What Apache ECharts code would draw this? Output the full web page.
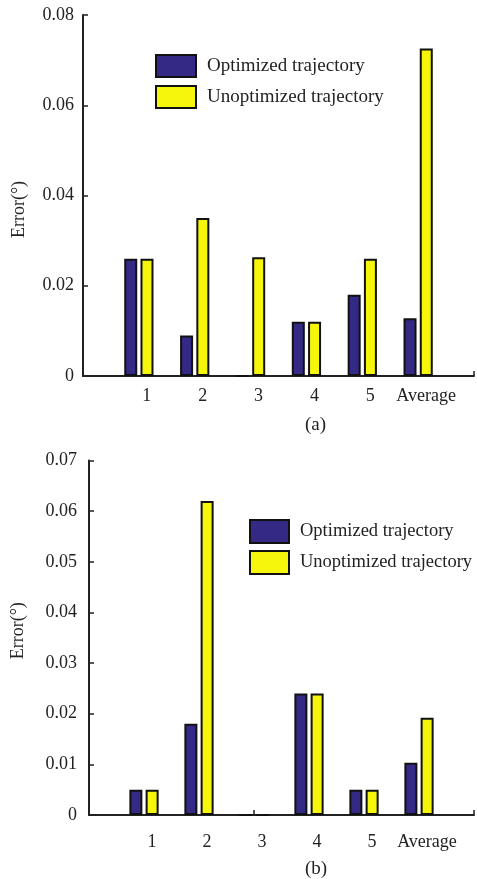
<!DOCTYPE html>
<html>
<head>
<meta charset="utf-8">
<script src="https://cdn.jsdelivr.net/npm/echarts@6/dist/echarts.min.js"></script>
<style>
  html, body { margin: 0; padding: 0; background: #fff; }
  #chart { width: 477px; height: 879px; }
</style>
</head>
<body>
<div id="chart"></div>
<script>
// Categories (padded with empty slots so bars sit on integer positions 1..6)
const categories = ['', '1', '2', '3', '4', '5', 'Average', ''];
const seriesNames = ['Optimized trajectory', 'Unoptimized trajectory'];

// Panel (a) errors in degrees
const optimizedA = [null, 0.026, 0.009, 0, 0.012, 0.018, 0.0128, null];
const unoptimizedA = [null, 0.026, 0.035, 0.0263, 0.012, 0.026, 0.0726, null];

// Panel (b) errors in degrees
const optimizedB = [null, 0.005, 0.018, 0, 0.024, 0.005, 0.0103, null];
const unoptimizedB = [null, 0.005, 0.062, 0, 0.024, 0.005, 0.0192, null];

const yTicksA = { min: 0, max: 0.08, interval: 0.02 };
const yTicksB = { min: 0, max: 0.07, interval: 0.01 };

const FONT = '"Liberation Serif", "Times New Roman", serif';
const INK = '#222';
const BLUE = '#342a85';
const YELLOW = '#f6f60c';

const chart = echarts.init(document.getElementById('chart'), null, { renderer: 'canvas' });

function xAxisCfg(gridIndex, margin, tickIdx) {
  return {
    type: 'category', gridIndex, data: categories, boundaryGap: false,
    axisLine: { lineStyle: { color: INK, width: 2 } },
    axisTick: {
      show: true, inside: true, length: 5,
      interval: (i) => tickIdx.indexOf(i) >= 0,
      lineStyle: { color: INK, width: 1.5 }
    },
    axisLabel: {
      interval: 0, margin, color: INK, fontFamily: FONT, fontSize: 18,
      padding: [0, 0, 0, 16]
    },
    splitLine: { show: false }
  };
}

function yAxisCfg(gridIndex, ticks, margin, nameGap, namePad) {
  return {
    type: 'value', gridIndex, min: ticks.min, max: ticks.max, interval: ticks.interval,
    name: 'Error(°)', nameLocation: 'middle', nameGap,
    nameTextStyle: { color: INK, fontFamily: FONT, fontSize: 18, padding: namePad },
    axisLine: { show: true, lineStyle: { color: INK, width: 2 } },
    axisTick: { show: true, inside: true, length: 5, lineStyle: { color: INK, width: 1.5 } },
    axisLabel: {
      margin, color: INK, fontFamily: FONT, fontSize: 18,
      formatter: (v) => (v === 0 ? '0' : v.toFixed(2))
    },
    splitLine: { show: false }
  };
}

function barSeries(name, data, color, axisIdx) {
  return {
    type: 'bar', name, data, xAxisIndex: axisIdx, yAxisIndex: axisIdx,
    barWidth: 13, barGap: '25%',
    itemStyle: { color, borderColor: '#111', borderWidth: 2 },
    emphasis: { disabled: true }
  };
}

function legendCfg(left, top, w, h, gap, fontSize) {
  return {
    orient: 'vertical', left, top, padding: 0, itemWidth: w, itemHeight: h, itemGap: gap,
    icon: 'rect', selectedMode: false,
    data: seriesNames.map((n) => ({ name: n })),
    textStyle: { color: INK, fontFamily: FONT, fontSize, padding: [0, 0, 0, 6] }
  };
}

chart.setOption({
  animation: false,
  backgroundColor: '#fff',
  grid: [
    { left: 83, top: 15, width: 392, height: 361 },
    { left: 89, top: 460.5, width: 387, height: 354.5 }
  ],
  xAxis: [xAxisCfg(0, 11, [7]), xAxisCfg(1, 18, [3, 7])],
  yAxis: [
    yAxisCfg(0, yTicksA, 9, 55, [0, 0, 0, -28]),
    yAxisCfg(1, yTicksB, 12, 62, [0, 0, 0, 14])
  ],
  legend: [
    Object.assign(legendCfg(155, 54, 40, 22, 7, 19), { seriesIndex: [0, 1] }),
    Object.assign(legendCfg(249, 519, 39, 23, 6, 18.5), { seriesIndex: [2, 3] })
  ],
  series: [
    barSeries(seriesNames[0], optimizedA, BLUE, 0),
    barSeries(seriesNames[1], unoptimizedA, YELLOW, 0),
    barSeries(seriesNames[0], optimizedB, BLUE, 1),
    barSeries(seriesNames[1], unoptimizedB, YELLOW, 1)
  ],
  graphic: [
    { type: 'text', left: 305, top: 416, style: { text: '(a)', font: '19px ' + FONT, fill: INK } },
    { type: 'text', left: 305, top: 860, style: { text: '(b)', font: '19px ' + FONT, fill: INK } }
  ]
});
</script>
</body>
</html>
